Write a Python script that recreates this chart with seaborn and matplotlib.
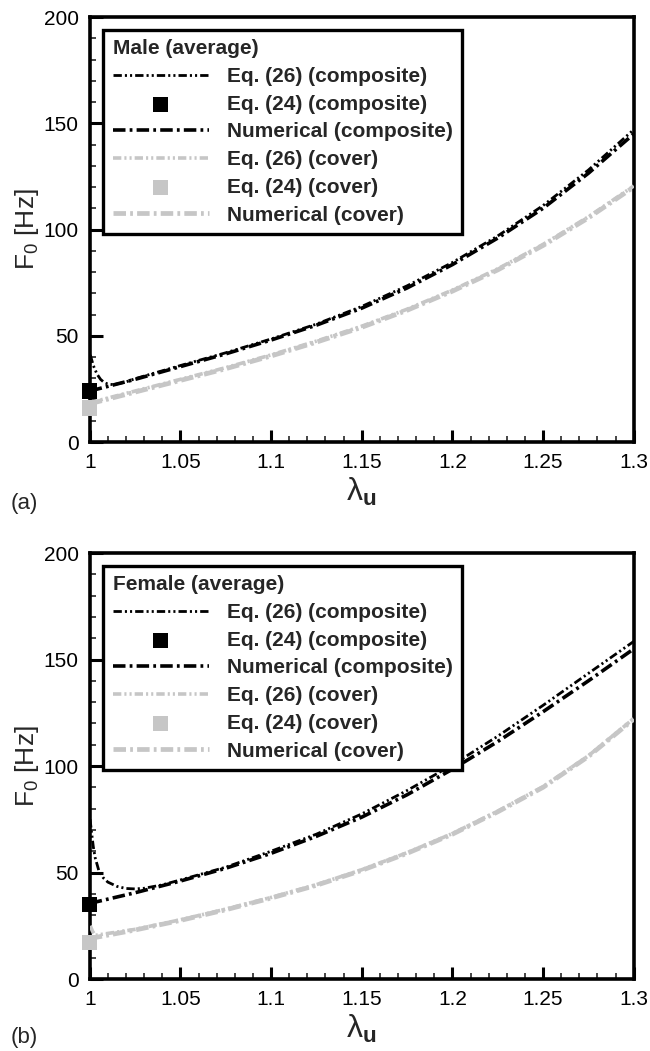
import numpy as np
import pandas as pd
import matplotlib
matplotlib.use("Agg")
import matplotlib.pyplot as plt
import seaborn as sns

# ---- data ----
lam = [1.0, 1.025, 1.05, 1.075, 1.1, 1.125, 1.15, 1.175, 1.2, 1.225, 1.25, 1.275, 1.3]
lam_tail = lam[2:]  # 1.05 .. 1.3

# male (a)
male_num_comp = [24, 29.5, 35.5, 41.5, 48, 55, 63, 72.5, 83.5, 96, 110, 126.5, 145]
male_num_cover = [18, 23.5, 29, 34.5, 40.5, 47, 54, 62, 71, 81, 92.5, 105.5, 120]
male_eq26_comp_x = [1.0003, 1.001, 1.002, 1.004, 1.006, 1.008, 1.01, 1.013, 1.016, 1.02, 1.025] + lam_tail
male_eq26_comp = [41, 39, 36, 32, 29.5, 28, 27.3, 27, 27.5, 28.3, 29.8,
                  36, 42, 48.5, 55.5, 63.8, 73.5, 84.5, 97, 111.3, 128, 147]
male_eq26_cover_x = lam
male_eq26_cover = [18.5, 24, 29.5, 35, 41, 47.5, 54.5, 62.5, 71.5, 81.5, 93, 106, 120.5]
male_eq24 = [24, 16]  # composite, cover at lambda = 1

# female (b)
female_num_comp = [35.5, 40.5, 46, 52, 59, 67, 76, 86.5, 98.5, 111.5, 125.5, 140, 155]
female_num_cover = [19, 23, 27.5, 32.5, 38, 44, 51, 59, 68, 78.5, 90, 104.5, 122]
female_eq26_comp_x = [1.0002, 1.001, 1.002, 1.003, 1.005, 1.0075, 1.01, 1.015, 1.02,
                      1.025, 1.03, 1.04] + lam_tail
female_eq26_comp = [75, 69, 62, 57, 51, 47.5, 45.5, 43.5, 42.5, 42.3, 42.6, 44.2,
                    46.5, 52.5, 60, 68, 77.5, 88.5, 100.5, 114, 128.5, 143.5, 158.5]
female_eq26_cover_x = [1.0003, 1.0015, 1.003] + lam[1:]
female_eq26_cover = [25, 22.5, 20.5, 23.3, 27.8, 32.8, 38.3, 44.3, 51.3, 59.3, 68.3, 78.8, 90.3, 104.8, 122.3]
female_eq24 = [35, 17]

labels = ["Eq. (26) (composite)", "Eq. (24) (composite)", "Numerical (composite)",
          "Eq. (26) (cover)", "Eq. (24) (cover)", "Numerical (cover)"]

# ---- style ----
sns.set_theme(style="ticks")
plt.rcParams["font.family"] = ["Liberation Sans", "DejaVu Sans"]
plt.rcParams["lines.scale_dashes"] = False
plt.rcParams["mathtext.fontset"] = "custom"
plt.rcParams["mathtext.rm"] = "Liberation Sans"
plt.rcParams["mathtext.it"] = "Liberation Sans"
plt.rcParams["mathtext.bf"] = "Liberation Sans:bold"

BLACK = "#000000"
GREY = "#c6c6c6"
dashdotdot = (0, (6, 2.2, 1.5, 2.2, 1.5, 2.2))
dashdot = (0, (9, 3, 2, 3))

fig = plt.figure(figsize=(6.5, 10.51), dpi=100)
ax_a = fig.add_axes([0.138, 0.5794, 0.837, 0.4044])
ax_b = fig.add_axes([0.138, 0.0685, 0.837, 0.4053])


def draw(ax, title, num_comp, num_cover, e26c_x, e26c, e26v_x, e26v, eq24):
    sns.lineplot(x=e26v_x, y=e26v, ax=ax, color=GREY, lw=2.6, linestyle=dashdotdot,
                 sort=False, label=labels[3], zorder=3)
    sns.lineplot(x=lam, y=num_cover, ax=ax, color=GREY, lw=3.4, linestyle=dashdot,
                 sort=False, label=labels[5], zorder=3)
    sns.lineplot(x=e26c_x, y=e26c, ax=ax, color=BLACK, lw=2.0, linestyle=dashdotdot,
                 sort=False, label=labels[0], zorder=4)
    sns.lineplot(x=lam, y=num_comp, ax=ax, color=BLACK, lw=2.6, linestyle=dashdot,
                 sort=False, label=labels[2], zorder=4)
    sns.scatterplot(x=[1.0], y=[eq24[1]], ax=ax, color=GREY, marker="s", s=120,
                    edgecolor="none", label=labels[4], clip_on=False, zorder=5)
    sns.scatterplot(x=[1.0], y=[eq24[0]], ax=ax, color=BLACK, marker="s", s=120,
                    edgecolor="none", label=labels[1], clip_on=False, zorder=6)

    ax.set_xlim(1.0, 1.3)
    ax.set_ylim(0, 200)
    ax.set_xticks([1.0, 1.05, 1.1, 1.15, 1.2, 1.25, 1.3])
    ax.set_xticklabels(["1", "1.05", "1.1", "1.15", "1.2", "1.25", "1.3"])
    ax.set_yticks([0, 50, 100, 150, 200])
    ax.set_xticks(np.arange(1.0, 1.3001, 0.01), minor=True)
    ax.set_yticks(np.arange(0, 201, 10), minor=True)
    ax.tick_params(which="major", direction="in", length=9, width=2.2, labelsize=15,
                   pad=8, top=False, right=False, colors=BLACK)
    ax.tick_params(which="minor", direction="in", length=4.5, width=1.2, top=False, right=False)
    for sp in ax.spines.values():
        sp.set_linewidth(2.6)
        sp.set_color(BLACK)
    ax.set_xlabel(r"$\mathrm{\lambda}_{\mathbf{u}}$", fontsize=23, labelpad=3)
    ax.set_ylabel(r"F$_0$ [Hz]", fontsize=19, labelpad=2)

    h, l = ax.get_legend_handles_labels()
    order = [l.index(t) for t in labels]
    leg = ax.legend([h[i] for i in order], [l[i] for i in order], title=title,
                    loc="upper left", bbox_to_anchor=(0.025, 0.97), frameon=True,
                    fancybox=False, edgecolor=BLACK, framealpha=1,
                    prop={"weight": "bold", "size": 15},
                    title_fontproperties={"weight": "bold", "size": 15},
                    alignment="left", handlelength=4.6, handletextpad=0.87,
                    labelspacing=0.42, borderpad=0.45, borderaxespad=0, markerscale=1.0)
    leg.get_frame().set_linewidth(2.4)


draw(ax_a, "Male (average)", male_num_comp, male_num_cover, male_eq26_comp_x, male_eq26_comp,
     male_eq26_cover_x, male_eq26_cover, male_eq24)
draw(ax_b, "Female (average)", female_num_comp, female_num_cover, female_eq26_comp_x,
     female_eq26_comp, female_eq26_cover_x, female_eq26_cover, female_eq24)

fig.text(0.016, 0.5205, "(a)", fontsize=16, va="center")
fig.text(0.016, 0.0133, "(b)", fontsize=16, va="center")

fig.savefig("out.png", dpi=100)
